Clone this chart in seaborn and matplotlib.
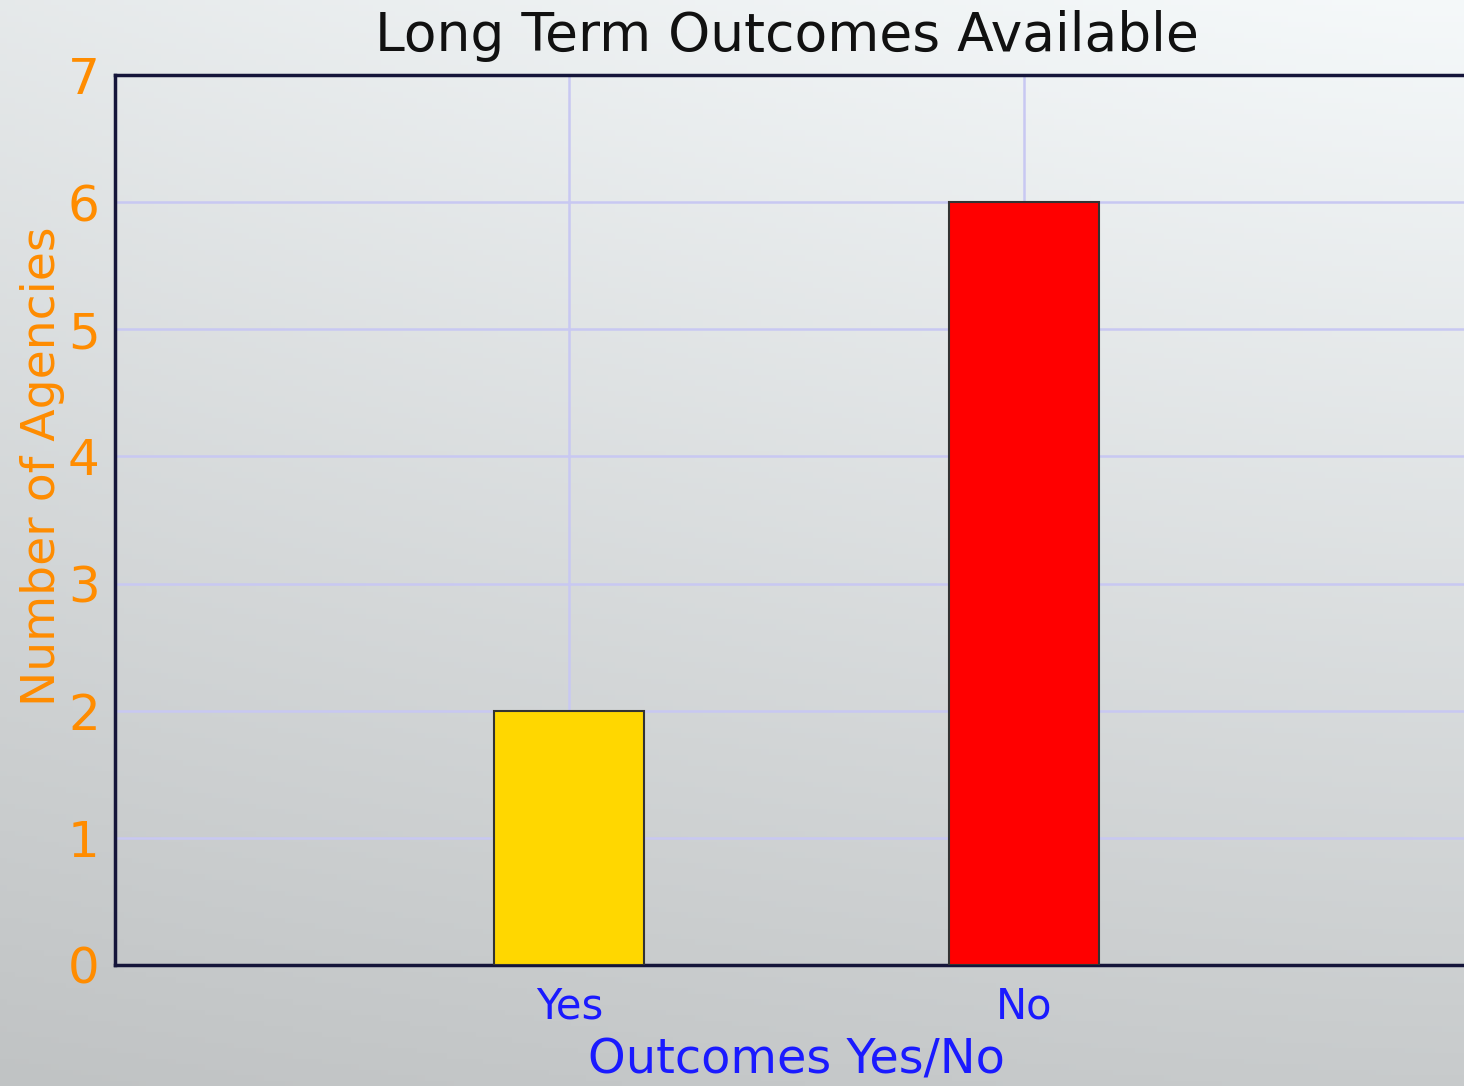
import numpy as np
import pandas as pd
import matplotlib.pyplot as plt
import seaborn as sns

sns.set_theme(style="white")
plt.rcParams['font.family'] = ['DejaVu Sans']

# datos del grafico
categorias = ["Yes", "No"]
agencias = [2, 6]
colores = ["#ffd700", "#ff0000"]
ticks_y = [0, 1, 2, 3, 4, 5, 6, 7]

df = pd.DataFrame({"Outcomes": categorias, "Agencies": agencias})

fig = plt.figure(figsize=(14.64, 10.86), dpi=100)

# fondo degradado gris
fondo = fig.add_axes([0, 0, 1, 1], zorder=-10)
yy, xx = np.mgrid[0:1:200j, 0:1:200j]
valor = 0.975 - 0.18 * yy - 0.06 * (1 - xx) ** 1.3 * (1 - 0.5 * yy)
img = np.dstack([valor * 0.985, valor * 1.0, valor * 1.005])
fondo.imshow(np.clip(img, 0, 1), aspect="auto", extent=[0, 1, 0, 1], origin="upper")
fondo.axis("off")

ax = fig.add_axes([115 / 1464, 1 - 965 / 1086, 1363 / 1464, 890 / 1086])
ax.set_facecolor("none")

sns.barplot(data=df, x="Outcomes", y="Agencies", hue="Outcomes", palette=colores,
            legend=False, width=0.33, saturation=1, edgecolor="#333333",
            linewidth=1.5, ax=ax, zorder=3)

ax.set_xlim(-1, 2)
ax.set_ylim(0, 7)
ax.set_yticks(ticks_y)
ax.grid(True, color="#c8c8f2", linewidth=1.8, zorder=0)
ax.set_axisbelow(True)

for lado in ["left", "bottom", "top"]:
    ax.spines[lado].set_color("#15153a")
    ax.spines[lado].set_linewidth(2.5)
ax.spines["right"].set_visible(False)

ax.tick_params(axis="y", colors="#ff8c00", labelsize=36, length=0, pad=11)
ax.tick_params(axis="x", colors="#1a1aff", labelsize=30, length=0, pad=15)

ax.set_xlabel("Outcomes Yes/No", color="#1a1aff", fontsize=34.5, labelpad=6)
ax.set_ylabel("Number of Agencies", color="#ff8c00", fontsize=34)
ax.yaxis.set_label_coords(-0.037, 0.56)
ax.set_title("Long Term Outcomes Available", color="#111111", fontsize=38.5, pad=17, x=0.493)

fig.savefig("out.png", dpi=100)
